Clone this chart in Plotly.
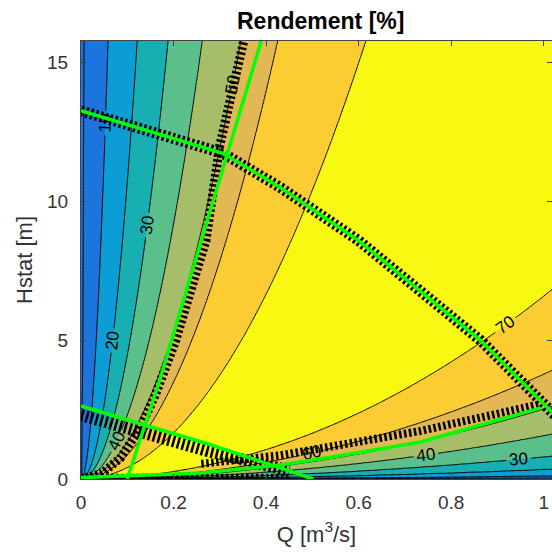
import numpy as np
import plotly.graph_objects as go

# ---- data ----
# efficiency (%) as a function of unit discharge u = Q / sqrt(Hstat), read from contour crossings
unit_discharge = [0.0, 0.0015, 0.0147, 0.0306, 0.0474, 0.066, 0.087, 0.107, 0.155, 0.21, 0.27,
                  0.39, 0.515, 0.63, 0.80, 1.12, 1.7, 3.0, 6.0, 50.0]
efficiency = [-3, 0, 10, 20, 30, 40, 50, 60, 70, 75, 75,
              70, 60, 50, 40, 30, 20, 10, 0, -10]
contour_levels = [0, 70, 10]  # start, end, step

# sampling grid of the map
q_grid = np.linspace(0.0, 1.06, 430)
h_grid = np.linspace(0.0005, 16.5, 340)

# green operating-limit curves
g1_q = [0.0, 0.307, 0.431, 0.60, 0.864, 1.015, 1.06]
g1_h = [13.25, 11.72, 10.49, 8.58, 4.98, 2.45, 1.7]
g2_q = [0.0, 0.275, 0.502]
g2_h = [2.63, 1.26, 0.0]
g3_q = [0.0, 0.26, 0.43, 0.54, 0.734, 0.994]
g3_h = [0.05, 0.22, 0.5, 0.78, 1.33, 2.56]
g4_q = [0.100, 0.171, 0.273, 0.392]
g4_h = [0.0, 3.6, 9.3, 15.9]

# black marker bands
m1_q = g1_q
m1_h = g1_h
m2_q = [0.0, 0.045, 0.085, 0.128, 0.16, 0.205, 0.27, 0.30, 0.355]
m2_h = [0.0, 0.2, 0.75, 1.84, 3.0, 5.0, 8.58, 12.0, 16.0]
m3_q = [0.0, 0.275, 0.45]
m3_h = [2.3, 1.0, 0.3]
m4_q = [0.26, 0.43, 0.734, 0.994]
m4_h = [0.55, 0.85, 1.73, 2.7]
m5_q = [0.0, 0.45]
m5_h = [0.08, 0.08]

x_ticks = [0, 0.2, 0.4, 0.6, 0.8, 1]
x_ticklabels = ["0", "0.2", "0.4", "0.6", "0.8", "1"]
y_ticks = [0, 5, 10, 15]

band_colors = ["#1c74dc", "#1c74dc", "#0d9dd6", "#17afb2", "#5bbf8c", "#a6be6a",
               "#e1b853", "#fccd32", "#f8f813"]

FONT = "Liberation Sans, Arial, sans-serif"

# ---- build map table ----
Q, H = np.meshgrid(q_grid, h_grid)
U = Q / np.sqrt(H)
Z = np.interp(U, unit_discharge, efficiency)

n = len(band_colors) - 1
colorscale = [[i / n, c] for i, c in enumerate(band_colors)]

fig = go.Figure()
fig.add_trace(go.Contour(
    x=q_grid, y=h_grid, z=Z,
    colorscale=colorscale, showscale=False,
    contours=dict(start=contour_levels[0], end=contour_levels[1], size=contour_levels[2],
                  coloring="fill", showlabels=True,
                  labelfont=dict(family=FONT, size=17, color="black")),
    line=dict(color="black", width=1, smoothing=1.0),
    hoverinfo="skip",
))

def band(q, h, w):
    fig.add_trace(go.Scatter(x=q, y=h, mode="lines",
                             line=dict(color="black", width=w, dash="2.5px,2.5px"),
                             hoverinfo="skip", showlegend=False))

band(m1_q, m1_h, 11)
band(m2_q, m2_h, 9)
band(m3_q, m3_h, 12)
band(m4_q, m4_h, 8)
band(m5_q, m5_h, 6)

for q, h in [(g1_q, g1_h), (g2_q, g2_h), (g3_q, g3_h), (g4_q, g4_h)]:
    fig.add_trace(go.Scatter(x=q, y=h, mode="lines",
                             line=dict(color="#00ff00", width=3.5),
                             hoverinfo="skip", showlegend=False))

axis_common = dict(showline=True, linecolor="#444444", linewidth=1, mirror="ticks",
                   ticks="inside", ticklen=5, tickcolor="#444444", showgrid=False,
                   zeroline=False, tickfont=dict(family=FONT, size=19, color="#333333"))

fig.update_layout(
    width=552, height=555,
    margin=dict(l=81, r=0, t=41, b=76),
    paper_bgcolor="white", plot_bgcolor="white",
    showlegend=False,
    title=dict(text="<b>Rendement [%]</b>", x=0.581, xanchor="center", y=0.963, yanchor="middle",
               font=dict(family=FONT, size=23, color="black")),
    xaxis=dict(range=[0, 1.018], tickvals=x_ticks, ticktext=x_ticklabels, ticklabelstandoff=6,
               title=dict(text="Q [m<sup>3</sup>/s]", standoff=14,
                          font=dict(family=FONT, size=22, color="#333333")),
               **axis_common),
    yaxis=dict(range=[0, 15.76], tickvals=y_ticks, ticklabelstandoff=8,
               title=dict(text="Hstat [m]", standoff=8,
                          font=dict(family=FONT, size=22, color="#333333")),
               **axis_common),
)

fig.write_html("out.html")
